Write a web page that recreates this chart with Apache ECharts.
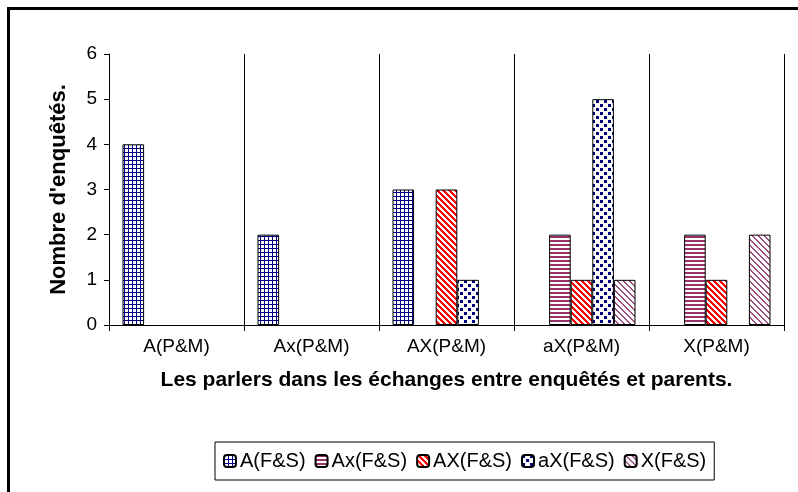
<!DOCTYPE html>
<html>
<head>
<meta charset="utf-8">
<script src="https://cdn.jsdelivr.net/npm/echarts@6/dist/echarts.min.js"></script>
<style>
  html, body { margin: 0; padding: 0; background: #fff; }
  .frame {
    position: absolute; left: 7px; top: 7px;
    width: 820px; height: 520px;
    border: 3px solid #000; box-sizing: border-box;
  }
  #chart { position: absolute; left: 0; top: 0; width: 798px; height: 492px; }
</style>
</head>
<body>
<div class="frame"></div>
<div id="chart"></div>
<script>
// categories (x axis)
const categories = ['A(P&M)', 'Ax(P&M)', 'AX(P&M)', 'aX(P&M)', 'X(P&M)'];
// series names
const seriesNames = ['A(F&S)', 'Ax(F&S)', 'AX(F&S)', 'aX(F&S)', 'X(F&S)'];
// values per series
const aFS  = [4, 2, 3, 0, 0];
const axFS = [0, 0, 0, 2, 2];
const AXFS = [0, 0, 3, 1, 1];
const aXFS = [0, 0, 1, 5, 0];
const xFS  = [0, 0, 0, 1, 2];
const yTicks = [0, 1, 2, 3, 4, 5, 6];

const FONT = "'Liberation Sans', Arial, sans-serif";

// pattern helper: paint a small tile pixel by pixel
function tile(w, h, fn) {
  const c = document.createElement('canvas');
  c.width = w; c.height = h;
  const ctx = c.getContext('2d');
  ctx.fillStyle = '#fff';
  ctx.fillRect(0, 0, w, h);
  for (let x = 0; x < w; x++) {
    for (let y = 0; y < h; y++) {
      const col = fn(x, y);
      if (col) { ctx.fillStyle = col; ctx.fillRect(x, y, 1, 1); }
    }
  }
  return { image: c, repeat: 'repeat' };
}

const patterns = [
  // navy grid
  tile(4, 4, (x, y) => (x === 0 || y === 0) ? '#000080' : null),
  // purple horizontal stripes
  tile(4, 4, (x, y) => (y < 2) ? '#993366' : null),
  // red diagonal stripes
  tile(6, 6, (x, y) => (((x - y) % 6 + 6) % 6 < 3) ? '#ff0000' : null),
  // navy dots
  tile(8, 8, (x, y) => ((x < 3 && y < 3) || (x >= 4 && x < 7 && y >= 4 && y < 7)) ? '#000080' : null),
  // purple diagonal stripes
  tile(6, 6, (x, y) => (((x - y) % 6 + 6) % 6 < 2) ? '#a05080' : null)
];

const values = [aFS, axFS, AXFS, aXFS, xFS];

const chart = echarts.init(document.getElementById('chart'));

const series = seriesNames.map((name, i) => ({
  name: name,
  type: 'bar',
  barGap: 0,
  barCategoryGap: '20%',
  data: values[i].map(v => v === 0 ? '-' : v),
  itemStyle: {
    color: patterns[i],
    borderColor: '#000',
    borderWidth: 1
  }
}));

const option = {
  animation: false,
  backgroundColor: 'transparent',
  textStyle: { fontFamily: FONT },
  grid: { left: 109, right: 14, top: 54, bottom: 167 },
  legend: {
    top: 442,
    left: 215,
    data: seriesNames,
    itemWidth: 12,
    itemHeight: 12,
    itemGap: 9,
    padding: [9, 8],
    borderColor: '#000',
    borderWidth: 1,
    textStyle: { fontSize: 20, color: '#000', fontFamily: FONT, padding: [0, 0, 0, -1] }
  },
  xAxis: {
    type: 'category',
    data: categories,
    name: 'Les parlers dans les échanges entre enquêtés et parents.',
    nameLocation: 'middle',
    nameGap: 45,
    nameTextStyle: { fontSize: 21, fontWeight: 'bold', color: '#000', fontFamily: FONT },
    axisLine: { lineStyle: { color: '#000', width: 1 } },
    axisTick: { show: true, length: 6, lineStyle: { color: '#000' } },
    axisLabel: { fontSize: 19, color: '#000', margin: 12, fontFamily: FONT },
    splitLine: { show: true, lineStyle: { color: '#000', width: 1 } }
  },
  yAxis: {
    type: 'value',
    min: 0,
    max: 6,
    interval: 1,
    name: "Nombre d'enquêtés.",
    nameLocation: 'middle',
    nameRotate: 90,
    nameGap: 39,
    nameTextStyle: { fontSize: 22, fontWeight: 'bold', color: '#000', fontFamily: FONT },
    axisLine: { show: true, lineStyle: { color: '#000', width: 1 } },
    axisTick: { show: true, length: 5, lineStyle: { color: '#000' } },
    axisLabel: {
      fontSize: 19, color: '#000', margin: 12, fontFamily: FONT,
      formatter: v => yTicks.includes(v) ? String(v) : ''
    },
    splitLine: { show: false }
  },
  series: series
};

chart.setOption(option);
</script>
</body>
</html>
